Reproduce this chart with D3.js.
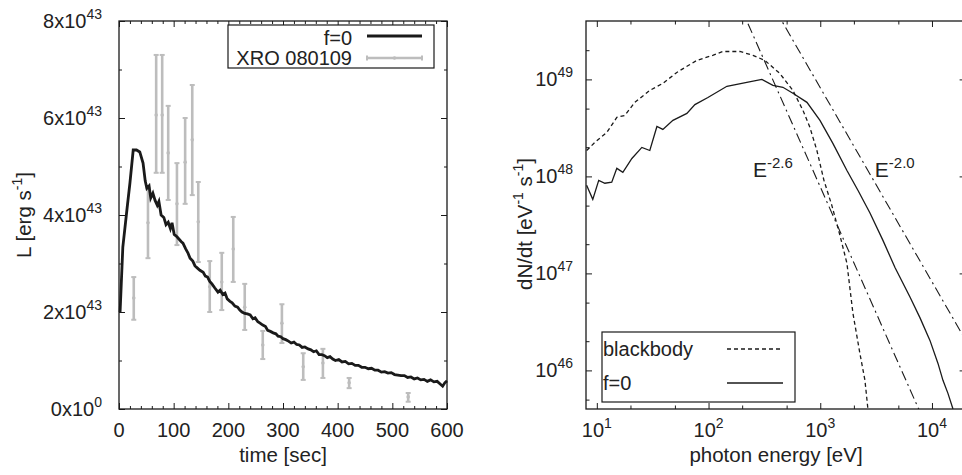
<!DOCTYPE html>
<html><head><meta charset="utf-8">
<script src="https://cdn.jsdelivr.net/npm/d3@7"></script>
<style>
body{margin:0;background:#fff}
text{font-family:"Liberation Sans",Arial,Helvetica,sans-serif;fill:#222}
</style>
</head><body>
<svg id="c" width="962" height="475"></svg>
<script>
// ---------- Left panel data (luminance in units of 1e43 erg/s) ----------
const modelTime = [2,7,15,20,26,32,38,44,48,51,55,58,62,66,70,73,77,82,86,90,94,97,101,106,110,114,117,122,126,130,135,139,143,148,154,158,162,166,170,175,181,185,190,194,198,203,207,212,217,221,225,230,235,240,245,249,254,258,263,268,272,277,282,287,291,296,300,305,310,315,320,325,330,335,340,346,351,356,361,366,371,376,381,386,391,396,402,408,414,420,426,432,438,444,450,456,462,468,474,480,486,492,498,504,510,516,522,528,534,540,546,552,558,564,570,576,582,587,592,596,600];
const modelLum  = [2.0,3.34,4.16,4.66,5.34,5.34,5.3,5.07,4.7,4.55,4.6,4.35,4.45,4.3,4.2,4.28,4.0,3.95,3.8,3.85,3.72,3.84,3.6,3.55,3.5,3.45,3.42,3.3,3.22,3.11,3.05,2.95,2.91,2.86,2.82,2.74,2.72,2.63,2.58,2.5,2.41,2.45,2.36,2.39,2.27,2.22,2.19,2.12,2.1,2.04,2.0,1.97,1.96,1.94,1.86,1.88,1.8,1.77,1.73,1.7,1.62,1.6,1.57,1.55,1.5,1.49,1.45,1.43,1.4,1.36,1.38,1.33,1.32,1.27,1.28,1.24,1.22,1.18,1.2,1.12,1.12,1.1,1.06,1.08,1.03,1.0,1.02,0.97,0.98,0.93,0.94,0.9,0.9,0.86,0.86,0.83,0.84,0.8,0.8,0.76,0.77,0.74,0.75,0.71,0.7,0.69,0.69,0.65,0.66,0.62,0.64,0.6,0.61,0.57,0.6,0.56,0.57,0.52,0.47,0.54,0.58];
const obsTime = [27,53,68,79,90,106,121,134,145,166,188,209,230,263,298,337,373,421,529];
const obsLum  = [2.29,3.84,6.06,6.06,5.28,4.23,5.09,5.55,3.86,2.52,2.62,3.30,2.10,1.32,1.77,0.87,0.95,0.54,0.25];
const obsLo   = [1.84,3.11,4.87,4.87,4.31,3.38,4.23,4.41,3.03,2.0,2.04,2.62,1.63,1.03,1.36,0.6,0.64,0.43,0.15];
const obsHi   = [2.72,4.56,7.30,7.30,6.25,5.07,6.0,6.68,4.68,3.05,3.22,3.96,2.58,1.61,2.16,1.15,1.24,0.64,0.33];
const timeTicks = [0,100,200,300,400,500,600];
const lumTicks = [0,2,4,6,8];
const leftLegend = ["f=0","XRO 080109"];

// ---------- Right panel data ----------
const bbEnergy = [8.1,9.6,12.3,15.1,17.8,21.9,29.8,39,52,78.5,109,134,191,250,319,435,569,700,808,933,1079,1271,1500,1733,1960,2263,2512,2670];
const bbRate   = [1.85e48,2.24e48,2.84e48,4.06e48,4.25e48,5.8e48,7.7e48,9.1e48,1.18e49,1.57e49,1.77e49,1.94e49,1.94e49,1.77e49,1.57e49,1.15e49,7.7e48,4.8e48,3.2e48,1.85e48,9.1e47,5.0e47,2.47e47,1.27e47,3.9e46,1.5e46,7.9e45,4e45];
const f0Energy = [8.1,9.2,10.4,11.8,13.6,15.1,17.1,20.6,25.3,29.8,34.5,39,48,64,75.5,98.7,146,220,300,377,463,569,760,994,1297,1733,2173,2786,3640,4665,6355,7800,9590,11320,12540,13900,15420];
const f0Rate   = [8.1e47,5.8e47,9.1e47,8.5e47,8.7e47,1.21e48,1.10e48,1.53e48,1.99e48,1.85e48,3.27e48,3.05e48,3.78e48,4.46e48,5.5e48,6.5e48,8.5e48,9.3e48,1.0e49,8.7e48,8.3e48,7.2e48,5.8e48,3.78e48,2.19e48,1.15e48,7.2e47,4.2e47,2.19e47,1.15e47,5.7e46,3.5e46,2.04e46,1.18e46,7.9e45,5.8e45,4e45];
const plawIndex = [-2.6, -2.0];
const plawNormAt1keV = [7.8e47, 8.2e48];
const plawLabelE = [250, 3080];
const plawLabelN = [9.8e47, 9.8e47];
const energyTickExp = [1,2,3,4];
const rateTickExp = [46,47,48,49];
const energyMinor = [20,50,200,500,2000,5000];
const rateMinor = [5e45,2e46,5e46,2e47,5e47,2e48,5e48,2e49];
const rightLegend = ["blackbody","f=0"];

// ---------- drawing ----------
const svg = d3.select("#c");
const INK = "#1a1a1a";
const GRAY = "#bdbdbd";

const xL = d3.scaleLinear([0,600],[119,447]);
const yL = d3.scaleLinear([0,8],[409,21]);
const xR = d3.scaleLog([8,2e4],[586,965.6]);
const yR = d3.scaleLog([4e45,4e49],[409,21]);

function ticks(scale, axisFn, vals, size, tx, ty){
  svg.append("g").attr("transform",`translate(${tx},${ty})`)
    .call(axisFn(scale).tickValues(vals).tickSize(-size).tickFormat(""))
    .call(g=>g.select(".domain").remove())
    .selectAll("line").attr("stroke",INK).attr("stroke-width",1);
}
function supText(x,y,base,sup,anchor,size,supSize,rot){
  const t = svg.append("text").attr("text-anchor",anchor).style("font-size",size+"px");
  if(rot){ t.attr("transform",`translate(${x},${y}) rotate(-90)`); }
  else { t.attr("x",x).attr("y",y); }
  let up=false;
  base.forEach((part,i)=>{
    const ts = t.append("tspan").text(part);
    if(up){ ts.attr("dy",9); up=false; }
    if(sup[i]!==undefined){
      t.append("tspan").style("font-size",supSize+"px").attr("dy",-9).text(sup[i]);
      up=true;
    }
  });
  return t;
}

// Left panel frame & ticks
const minorTime = d3.range(0,601,20).filter(v=>v%100);
const minorLum = [1,3,5,7];
ticks(xL,d3.axisBottom,timeTicks,6,0,409);
ticks(xL,d3.axisBottom,minorTime,3,0,409);
ticks(xL,d3.axisTop,timeTicks,6,0,21);
ticks(xL,d3.axisTop,minorTime,3,0,21);
ticks(yL,d3.axisLeft,lumTicks,6,119,0);
ticks(yL,d3.axisLeft,minorLum,3,119,0);
ticks(yL,d3.axisRight,lumTicks,6,447,0);
ticks(yL,d3.axisRight,minorLum,3,447,0);

// observed error bars
const obs = obsTime.map((t,i)=>({t,l:obsLum[i],lo:obsLo[i],hi:obsHi[i]}));
const og = svg.append("g").attr("stroke",GRAY).attr("stroke-width",2.6).attr("fill",GRAY);
obs.forEach(d=>{
  const x=xL(d.t);
  og.append("line").attr("x1",x).attr("x2",x).attr("y1",yL(d.lo)).attr("y2",yL(d.hi));
  og.append("line").attr("x1",x-2.5).attr("x2",x+2.5).attr("y1",yL(d.lo)).attr("y2",yL(d.lo)).attr("stroke-width",2);
  og.append("line").attr("x1",x-2.5).attr("x2",x+2.5).attr("y1",yL(d.hi)).attr("y2",yL(d.hi)).attr("stroke-width",2);
  og.append("circle").attr("cx",x).attr("cy",yL(d.l)).attr("r",1.8).attr("stroke","none");
});

// model line
svg.append("path").datum(modelTime.map((t,i)=>[t,modelLum[i]]))
  .attr("fill","none").attr("stroke",INK).attr("stroke-width",2.8).attr("stroke-linejoin","miter")
  .attr("d",d3.line().x(d=>xL(d[0])).y(d=>yL(d[1])));

svg.append("rect").attr("x",119).attr("y",21).attr("width",328).attr("height",388)
  .attr("fill","none").attr("stroke",INK).attr("stroke-width",1.3);

// left legend
svg.append("rect").attr("x",228).attr("y",25).attr("width",206).attr("height",43)
  .attr("fill","#fff").attr("stroke",INK).attr("stroke-width",1.2);
svg.append("text").attr("x",352).attr("y",45).attr("text-anchor","end").style("font-size","20px").text(leftLegend[0]);
svg.append("text").attr("x",352).attr("y",65).attr("text-anchor","end").style("font-size","20px").text(leftLegend[1]);
svg.append("line").attr("x1",367).attr("x2",422).attr("y1",36).attr("y2",36).attr("stroke",INK).attr("stroke-width",2.8);
const lg = svg.append("g").attr("stroke",GRAY).attr("stroke-width",2.4);
lg.append("line").attr("x1",367).attr("x2",422).attr("y1",58).attr("y2",58);
lg.append("line").attr("x1",367).attr("x2",367).attr("y1",55.5).attr("y2",60.5).attr("stroke-width",2);
lg.append("line").attr("x1",422).attr("x2",422).attr("y1",55.5).attr("y2",60.5).attr("stroke-width",2);
lg.append("circle").attr("cx",394.5).attr("cy",58).attr("r",1.8).attr("fill",GRAY).attr("stroke","none");

// left tick labels
lumTicks.forEach(v=>{
  supText(102,yL(v)+7,[v+"x10"],[v===0?"0":"43"],"end",20,14);
});
timeTicks.forEach(v=>{
  svg.append("text").attr("x",xL(v)).attr("y",437).attr("text-anchor","middle").style("font-size","20px").text(v);
});
svg.append("text").attr("x",283).attr("y",462).attr("text-anchor","middle").style("font-size","20.5px").text("time [sec]");
supText(31,215,["L [erg s","]"],["-1"],"middle",20.5,14,true);

// Right panel
svg.append("clipPath").attr("id","cr").append("rect").attr("x",586).attr("y",21).attr("width",380).attr("height",388);
const energyMajor = energyTickExp.map(e=>Math.pow(10,e));
const rateMajor = rateTickExp.map(e=>Math.pow(10,e));
ticks(xR,d3.axisBottom,energyMajor,6,0,409);
ticks(xR,d3.axisBottom,energyMinor,3.5,0,409);
ticks(xR,d3.axisTop,energyMajor,6,0,21);
ticks(xR,d3.axisTop,energyMinor,3.5,0,21);
ticks(yR,d3.axisLeft,rateMajor,6,586,0);
ticks(yR,d3.axisLeft,rateMinor,3.5,586,0);
ticks(yR,d3.axisRight,rateMajor,6,965.6,0);
ticks(yR,d3.axisRight,rateMinor,3.5,965.6,0);

const pg = svg.append("g").attr("clip-path","url(#cr)").attr("fill","none").attr("stroke",INK).attr("stroke-width",1.3);
const lineR = d3.line().x(d=>xR(d[0])).y(d=>yR(d[1]));
plawIndex.forEach((p,i)=>{
  const es = [8,1e2,1e3,1e4,2e4];
  pg.append("path").datum(es.map(e=>[e,plawNormAt1keV[i]*Math.pow(e/1000,p)]))
    .attr("d",lineR).attr("stroke-dasharray","10,4,2,4").attr("stroke-width",1.1);
});
pg.append("path").datum(bbEnergy.map((e,i)=>[e,bbRate[i]])).attr("d",lineR).attr("stroke-dasharray","4,3");
pg.append("path").datum(f0Energy.map((e,i)=>[e,f0Rate[i]])).attr("d",lineR);

svg.append("rect").attr("x",586).attr("y",21).attr("width",379.6).attr("height",388)
  .attr("fill","none").attr("stroke",INK).attr("stroke-width",1.3);

plawIndex.forEach((p,i)=>{
  supText(xR(plawLabelE[i]),yR(plawLabelN[i]),["E"],[p.toFixed(1)],"start",21,15);
});

// right legend
svg.append("rect").attr("x",602).attr("y",332).attr("width",193).attr("height",70)
  .attr("fill","#fff").attr("stroke",INK).attr("stroke-width",1.2);
svg.append("text").attr("x",603).attr("y",356).style("font-size","20px").text(rightLegend[0]);
svg.append("text").attr("x",603).attr("y",390).style("font-size","20px").text(rightLegend[1]);
svg.append("line").attr("x1",727).attr("x2",783).attr("y1",349).attr("y2",349).attr("stroke",INK).attr("stroke-width",1.3).attr("stroke-dasharray","4,3");
svg.append("line").attr("x1",727).attr("x2",783).attr("y1",383).attr("y2",383).attr("stroke",INK).attr("stroke-width",1.3);

// right tick labels
energyTickExp.forEach(e=>{
  supText(xR(Math.pow(10,e)),437,["10"],[String(e)],"middle",20,14);
});
rateTickExp.forEach(e=>{
  supText(573,yR(Math.pow(10,e))+7,["10"],[String(e)],"end",20,14);
});
svg.append("text").attr("x",776).attr("y",462).attr("text-anchor","middle").style("font-size","20.5px").text("photon energy [eV]");
supText(532,224,["dN/dt [eV"," s","]"],["-1","-1"],"middle",20.5,14,true);
</script>
</body></html>
